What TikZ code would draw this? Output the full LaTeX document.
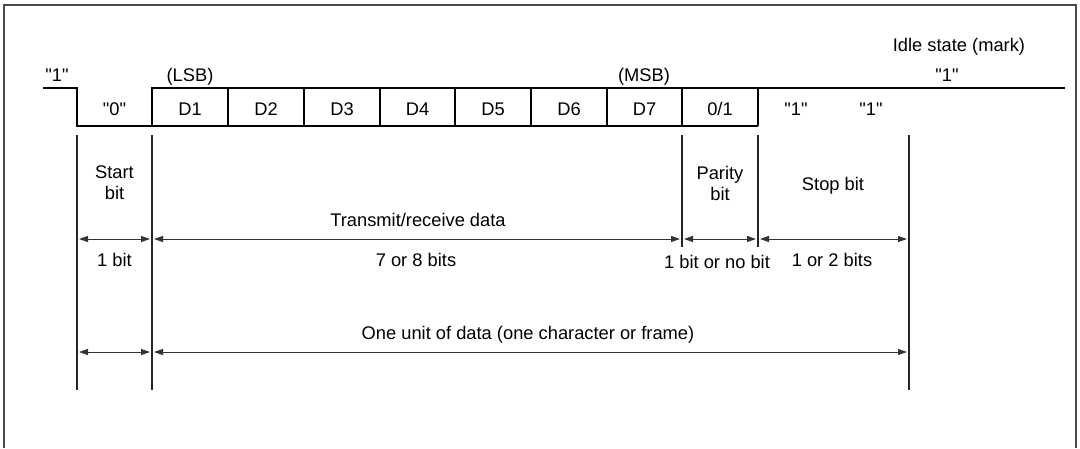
\documentclass[tikz,border=0pt]{standalone}
\usepackage{fontspec}
\setmainfont{Liberation Sans}
\usetikzlibrary{arrows.meta}
\newcommand{\qone}[1]{\textquotedbl#1\textquotedbl}
\begin{document}
\begin{tikzpicture}[x=1pt,y=-1pt,
  font=\fontsize{18.3}{21}\selectfont,
  sig/.style={line width=1.6pt, black},
  ext/.style={line width=1.3pt, black!85},
  dim/.style={line width=1pt, black!80,
    {Triangle[length=9pt,width=6pt]}-{Triangle[length=9pt,width=6pt]},
    shorten <=2pt, shorten >=2pt},
  lbl/.style={anchor=base, inner sep=0pt},
  two/.style={align=center, inner sep=0pt},
  frm/.style={line width=2pt, black!70}]
\useasboundingbox (0,0) rectangle (1080,448);
\draw[frm] (4,448) -- (4,5) -- (1076,5) -- (1076,448);

% bit boundaries
\foreach \n/\x in {0/77,1/152,2/228,3/304,4/380,5/455,6/531,7/607,8/682,9/758,10/909}{
  \coordinate (t\n) at (\x,88);
  \coordinate (l\n) at (\x,126);
  \coordinate (e\n) at (\x,135);
}
\coordinate (in) at (43,88);
\coordinate (out) at (1065,88);

% signal waveform
\draw[sig] (in) -- (t0) -- (l0) -- (l9);
\draw[sig] (l1) -- (t1) -- (out);
\foreach \n in {2,...,9}{ \draw[sig] (t\n) -- (l\n); }

% extension lines
\coordinate (f0) at (77,390);
\coordinate (f1) at (152,390);
\coordinate (f10) at (909,390);
\coordinate (f8) at (682,247);
\coordinate (f9) at (758,247);
\draw[ext] (e0) -- (f0);
\draw[ext] (e1) -- (f1);
\draw[ext] (e10) -- (f10);
\draw[ext] (e8) -- (f8);
\draw[ext] (e9) -- (f9);

% dimension arrows row 1
\coordinate (a0) at (77,239);
\coordinate (a1) at (152,239);
\coordinate (a8) at (682,239);
\coordinate (a9) at (758,239);
\coordinate (a10) at (909,239);
\draw[dim] (a0) -- (a1);
\draw[dim] (a1) -- (a8);
\draw[dim] (a8) -- (a9);
\draw[dim] (a9) -- (a10);

% dimension arrows row 2
\coordinate (c0) at (77,352);
\coordinate (c1) at (152,352);
\coordinate (c10) at (909,352);
\draw[dim] (c0) -- (c1);
\draw[dim] (c1) -- (c10);

% top labels
\node[lbl] (idle) at (959,51) {Idle state (mark)};
\node[lbl] (q1l) at (57,81) {\qone{1}};
\node[lbl] (lsb) at (190,81) {(LSB)};
\node[lbl] (msb) at (644,81) {(MSB)};
\node[lbl] (q1r) at (947,81) {\qone{1}};

% bit labels
\node[lbl] (q0) at (114.5,115) {\qone{0}};
\node[lbl] (d1) at (190,115) {D1};
\node[lbl] (d2) at (266,115) {D2};
\node[lbl] (d3) at (342,115) {D3};
\node[lbl] (d4) at (417.5,115) {D4};
\node[lbl] (d5) at (493,115) {D5};
\node[lbl] (d6) at (569,115) {D6};
\node[lbl] (d7) at (644.5,115) {D7};
\node[lbl] (par) at (720,115) {0/1};
\node[lbl] (s1) at (796,115) {\qone{1}};
\node[lbl] (s2) at (871,115) {\qone{1}};

% field names
\node[two] (start) at (114.5,183) {Start\\bit};
\node[two] (parity) at (720,183) {Parity\\bit};
\node[lbl] (stop) at (833,190) {Stop bit};
\node[lbl] (trd) at (418,226) {Transmit/receive data};

% sizes
\node[lbl] (sz0) at (114.5,266) {1 bit};
\node[lbl] (sz1) at (416,266) {7 or 8 bits};
\node[lbl] (sz2) at (717,268) {1 bit or no bit};
\node[lbl] (sz3) at (832,266) {1 or 2 bits};
\node[lbl] (unit) at (528,339) {One unit of data (one character or frame)};
\end{tikzpicture}
\end{document}
